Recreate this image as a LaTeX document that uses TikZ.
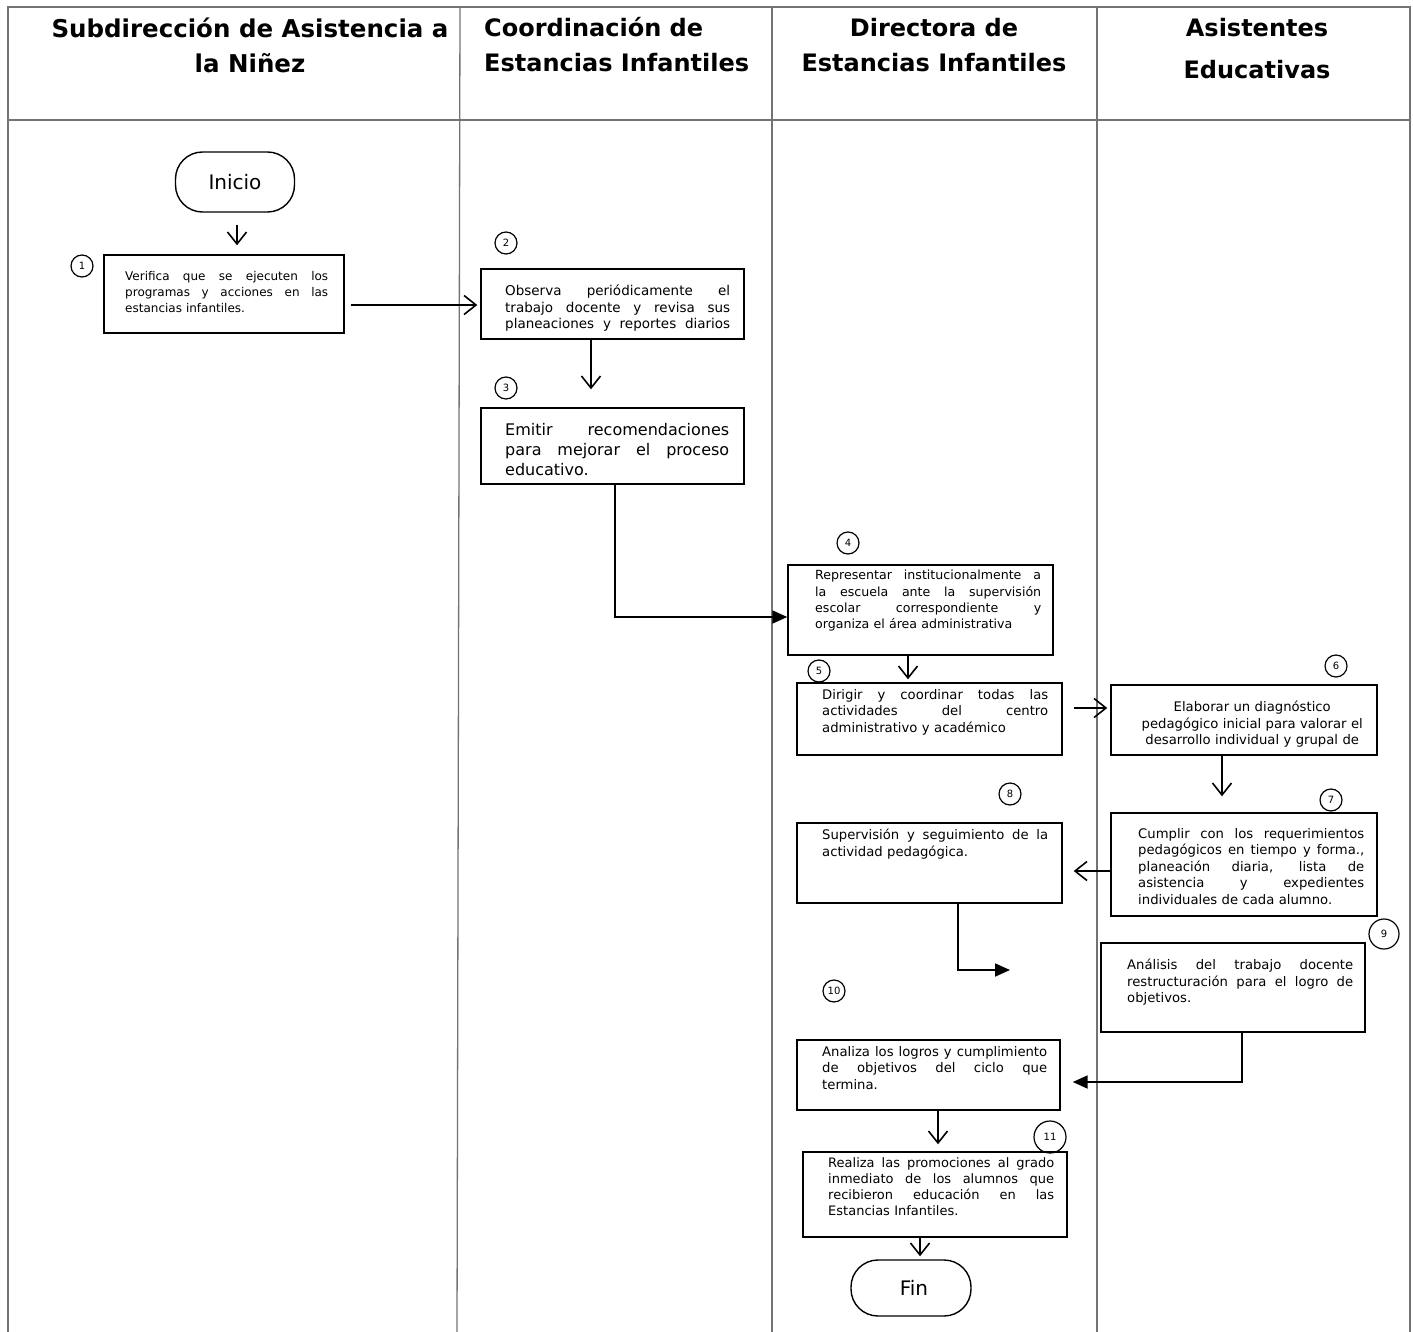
\documentclass[tikz,border=0pt]{standalone}
\usepackage{fontspec}
\setmainfont{DejaVu Sans}
\usepackage{tikz}
\usetikzlibrary{arrows.meta}
\tikzset{
  lane/.style={draw=black!55, line width=1.3pt},
  stepbox/.style={draw, line width=1.4pt, inner sep=0pt},
  endbox/.style={draw, line width=1.4pt, rounded corners=27pt, inner sep=0pt, font=\fontsize{20}{24}\selectfont},
  steptext/.style={anchor=north west, inner sep=0pt, align=left},
  num/.style={draw, circle, line width=1.2pt, minimum size=22pt, inner sep=0pt, font=\fontsize{10}{11}\selectfont},
  head/.style={align=center, inner sep=0pt, font=\bfseries\fontsize{24}{35}\selectfont},
  openarrow/.style={line width=1.6pt, -{Straight Barb[length=12pt,width=19pt,line width=1.6pt]}},
  fullarrow/.style={line width=1.8pt, -{Triangle[length=15pt,width=13pt]}}
}
% one justified line of a step text
\newcommand{\jl}[1]{\noindent\makebox[\hsize][s]{\spaceskip=0pt\relax #1}}
\begin{document}
\begin{tikzpicture}[x=1pt,y=-1pt]
	\useasboundingbox (0,0) rectangle (1413,1332);
	% Lanes:
	\draw[lane] (8,1332) -- (8,7) -- (1410,7) -- (1410,1332);
	\draw[lane] (8,120) -- (1410,120);
	\draw[lane] (460,7) -- (457,1332);
	\draw[lane] (772,7) -- (772,1332);
	\draw[lane] (1097,7) -- (1097,1332);

	% Lane titles:
	\node[head, font=\bfseries\fontsize{24.5}{35}\selectfont] (hd1) at (250,45) {Subdirección de Asistencia a\\la Niñez};
	\node[head, align=left, anchor=north west] (hd2) at (484,17) {Coordinación de\\Estancias Infantiles};
	\node[head] (hd3) at (934,45) {Directora de\\Estancias Infantiles};
	\node[head, font=\bfseries\fontsize{24}{42}\selectfont] (hd4) at (1257,49) {Asistentes\\Educativas};

	% Start and end:
	\node[endbox, minimum width=119pt, minimum height=60pt] (ini) at (235,182) {Inicio};
	\node[endbox, minimum width=120pt, minimum height=56pt] (fin) at (911,1288) {\hspace{6pt}Fin};

	% Step boxes:
	\node[stepbox, minimum width=240pt, minimum height=78pt] (b1) at (224,294) {};
	\node[stepbox, minimum width=263pt, minimum height=70pt] (b2) at (612.5,304) {};
	\node[stepbox, minimum width=263pt, minimum height=76pt] (b3) at (612.5,446) {};
	\node[stepbox, minimum width=265pt, minimum height=90pt] (b4) at (920.5,610) {};
	\node[stepbox, minimum width=265pt, minimum height=72pt] (b5) at (929.5,719) {};
	\node[stepbox, minimum width=266pt, minimum height=70pt] (b6) at (1244,720) {};
	\node[stepbox, minimum width=266pt, minimum height=103pt] (b7) at (1244,864.5) {};
	\node[stepbox, minimum width=265pt, minimum height=80pt] (b8) at (929.5,863) {};
	\node[stepbox, minimum width=264pt, minimum height=89pt] (b9) at (1233,987.5) {};
	\node[stepbox, minimum width=263pt, minimum height=70pt] (b10) at (928.5,1075) {};
	\node[stepbox, minimum width=264pt, minimum height=85pt] (b11) at (935,1194.5) {};

	% Step texts:
	\node[steptext, text width=203pt, font=\fontsize{12}{16}\selectfont] (t1) at (125,271) {\jl{Verifica que se ejecuten los}\\\jl{programas y acciones en las}\\estancias infantiles.};
	\node[steptext, text width=225pt, font=\fontsize{13.5}{16.3}\selectfont] (t2) at (505,285) {\jl{Observa periódicamente el}\\\jl{trabajo docente y revisa sus}\\\jl{planeaciones y reportes diarios}};
	\node[steptext, text width=224pt, font=\fontsize{16}{20}\selectfont] (t3) at (505,423) {\jl{Emitir recomendaciones}\\\jl{para mejorar el proceso}\\educativo.};
	\begin{scope}[font=\fontsize{13.2}{16.5}\selectfont]
	\node[steptext, text width=226pt, font=\fontsize{12.6}{16.3}\selectfont] (t4) at (815,570) {\jl{Representar institucionalmente a}\\\jl{la escuela ante la supervisión}\\\jl{escolar correspondiente y}\\organiza el área administrativa};
	\node[steptext, text width=226pt] (t5) at (822,689) {\jl{Dirigir y coordinar todas las}\\\jl{actividades del centro}\\administrativo y académico};
	\node[steptext, text width=240pt, align=center] (t6) at (1132,701) {Elaborar un diagnóstico\\pedagógico inicial para valorar el\\desarrollo individual y grupal de};
	\node[steptext, text width=226pt] (t7) at (1138,828) {\jl{Cumplir con los requerimientos}\\\jl{pedagógicos en tiempo y forma.,}\\\jl{planeación diaria, lista de}\\\jl{asistencia y expedientes}\\individuales de cada alumno.};
	\node[steptext, text width=226pt] (t8) at (822,829) {\jl{Supervisión y seguimiento de la}\\actividad pedagógica.};
	\node[steptext, text width=226pt] (t9) at (1127,959) {\jl{Análisis del trabajo docente}\\\jl{restructuración para el logro de}\\objetivos.};
	\node[steptext, text width=225pt] (t10) at (822,1046) {\jl{Analiza los logros y cumplimiento}\\\jl{de objetivos del ciclo que}\\termina.};
	\node[steptext, text width=226pt, font=\fontsize{13}{16.3}\selectfont] (t11) at (828,1157) {\jl{Realiza las promociones al grado}\\\jl{inmediato de los alumnos que}\\\jl{recibieron educación en las}\\Estancias Infantiles.};
	\end{scope}

	% Step numbers:
	\foreach \n/\x/\y in {1/82/266, 2/506/243, 3/506/388, 4/848/543, 5/819/671, 6/1336/666, 7/1331/800, 8/1010/794, 10/834/991}{%
		\node[num] (c\n) at (\x,\y) {\n};
	}
	\node[num, minimum size=30pt] (c9) at (1384,934) {9};
	\node[num, minimum size=32pt] (c11) at (1050,1137) {11};

	% Connectors:
	\draw[openarrow, shorten <=12pt, shorten >=9pt] (ini.south -| 237,0) -- (b1.north -| 237,0);
	\draw[openarrow, shorten <=6pt, shorten >=3pt] (b1.east |- 0,305) -- (b2.west |- 0,305);
	\draw[openarrow, shorten >=18pt] (b2.south -| 591,0) -- (b3.north -| 591,0);
	\draw[fullarrow] (b3.south -| 615,0) |- (b4.west |- 0,617);
	\draw[openarrow, shorten >=3pt] (b4.south -| 908,0) -- (b5.north -| 908,0);
	\draw[openarrow, shorten <=11pt, shorten >=3pt] (b5.east |- 0,708) -- (b6.west |- 0,708);
	\draw[openarrow, shorten >=16pt] (b6.south -| 1222,0) -- (b7.north -| 1222,0);
	\draw[openarrow, shorten >=11pt] (b7.west |- 0,871) -- (b8.east |- 0,871);
	\coordinate (e8) at (1010,970);
	\draw[fullarrow] (b8.south -| 958,0) |- (e8);
	\draw[fullarrow, shorten >=12pt] (b9.south -| 1242,0) |- (b10.east |- 0,1082);
	\draw[openarrow, shorten >=7pt] (b10.south -| 938,0) -- (b11.north -| 938,0);
	\draw[openarrow, shorten >=3pt] (b11.south -| 920,0) -- (fin.north -| 920,0);
\end{tikzpicture}
\end{document}
